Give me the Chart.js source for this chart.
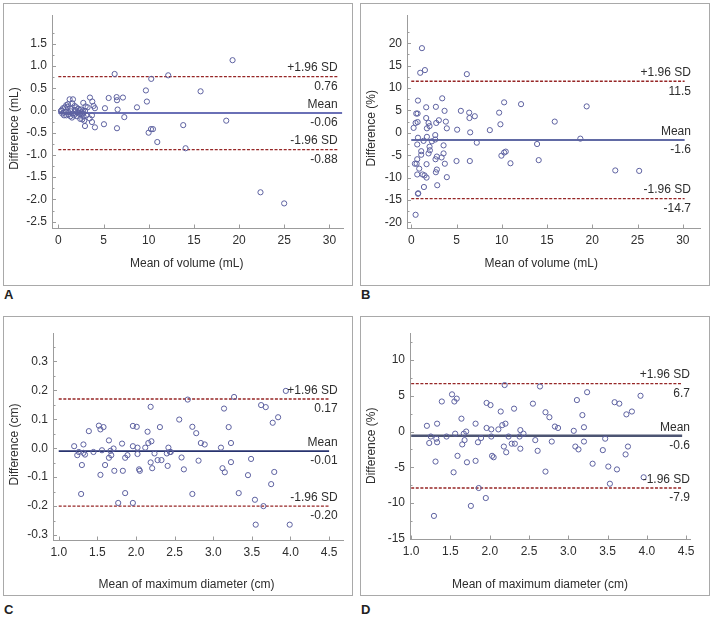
<!DOCTYPE html>
<html>
<head>
<meta charset="utf-8">
<script src="https://cdn.jsdelivr.net/npm/chart.js@4.4.1/dist/chart.umd.min.js"></script>
<style>
  body { margin: 0; background: #fff; width: 714px; height: 618px; position: relative; overflow: hidden; }
  .panel { position: absolute; border: 1px solid #a9a9a9; box-sizing: border-box; background: #fff; }
  .panel canvas { display: block; }
  .tag { position: absolute; font: bold 13px "Liberation Sans", Arial, sans-serif; color: #222; }
</style>
</head>
<body>
<div class="panel" style="left:3px;top:3px;width:350px;height:283px"><canvas id="chartA" width="348" height="281"></canvas></div>
<div class="panel" style="left:360px;top:3px;width:350px;height:283px"><canvas id="chartB" width="348" height="281"></canvas></div>
<div class="panel" style="left:3px;top:316px;width:350px;height:280px"><canvas id="chartC" width="348" height="278"></canvas></div>
<div class="panel" style="left:360px;top:316px;width:350px;height:280px"><canvas id="chartD" width="348" height="278"></canvas></div>
<div class="tag" style="left:4px;top:287px">A</div>
<div class="tag" style="left:361px;top:287px">B</div>
<div class="tag" style="left:4px;top:602px">C</div>
<div class="tag" style="left:361px;top:602px">D</div>
<script>
// A: mean of volume (mL) vs difference (mL)
const volA = [
  6.23, 19.28, 10.28, 12.16, 9.69, 15.74, 9.80, 8.70, 5.57, 6.45, 6.49, 7.15, 5.16, 6.56,
  7.30, 5.05, 6.49, 4.05, 18.58, 13.82, 9.99, 10.25, 10.47, 10.95, 14.08, 22.37, 24.99,
  3.50, 3.76, 3.90, 4.05, 3.02, 2.76, 3.46, 3.72, 3.72, 2.95, 2.87, 2.76,
  0.37, 0.52, 0.74, 0.88, 1.07, 1.25, 1.62, 1.55, 1.81, 1.99, 2.21, 2.36, 2.54, 2.73,
  0.44, 0.63, 0.88, 1.11, 1.33, 1.51, 1.73, 1.92, 2.14, 2.36, 2.62, 0.77, 1.14, 1.40,
  1.62, 1.03, 1.40, 1.84, 2.06, 2.29, 2.80, 2.65, 2.43, 3.10, 3.24, 2.95, 0.29, 0.59,
];
const diffA = [
  0.82, 1.13, 0.71, 0.79, 0.45, 0.43, 0.20, 0.07, 0.28, 0.30, 0.23, 0.29, 0.05, 0.02,
  -0.15, -0.31, -0.40, -0.38, -0.23, -0.33, -0.50, -0.42, -0.42, -0.71, -0.85, -1.84, -2.09,
  0.29, 0.20, 0.10, 0.05, 0.09, 0.17, -0.18, -0.11, -0.26, -0.35, -0.23, -0.07,
  0.01, 0.05, 0.07, 0.12, 0.14, 0.25, 0.25, 0.16, 0.10, 0.07, 0.04, 0.01, 0.02, -0.02,
  -0.07, -0.11, -0.11, -0.09, -0.13, -0.16, -0.11, -0.07, -0.04, -0.08, -0.07, -0.03, -0.04, -0.02,
  -0.07, 0.08, 0.03, 0.01, -0.13, -0.05, -0.14, -0.20, -0.19, -0.11, 0.07, -0.01, -0.01, -0.05,
];

// B: mean of volume (mL) vs difference (%)
const volB = [
  1.18, 0.99, 1.51, 6.14, 3.42, 0.74, 10.26, 12.13, 19.38, 2.72, 1.65, 0.55, 0.70, 3.68,
  5.48, 6.40, 9.71, 7.02, 6.43, 1.65, 3.05, 3.82, 0.70, 0.48, 1.91, 2.76, 15.85, 9.85,
  2.02, 1.73, 0.26, 3.93, 5.07, 8.68, 6.51, 18.68, 0.74, 1.73, 2.65, 1.36, 2.28, 2.65,
  7.24, 13.90, 0.66, 3.57, 2.02, 1.10, 2.06, 1.91, 3.57, 2.83, 3.35, 1.10, 10.26, 10.44,
  9.96, 2.68, 0.66, 0.40, 0.59, 3.71, 5.00, 6.47, 14.08, 10.96, 1.69, 0.88, 2.83, 2.72,
  22.54, 25.18, 0.66, 1.25, 1.47, 1.69, 3.93, 1.40, 2.87, 0.77, 0.74, 0.48,
];
const diffB = [
  18.9, 13.4, 14.0, 13.1, 7.7, 7.2, 6.8, 6.4, 5.9, 5.8, 5.7, 4.3, 4.3, 4.9,
  4.9, 4.5, 4.5, 3.7, 3.3, 3.3, 2.8, 2.5, 2.4, 2.2, 2.2, 2.2, 2.5, 1.9,
  1.5, 1.0, 1.1, 1.0, 0.7, 0.6, 0.1, -1.3, -1.1, -0.9, -0.5, -1.8, -1.9, -1.5,
  -2.2, -2.5, -2.6, -2.8, -3.1, -4.1, -3.9, -4.6, -4.6, -5.3, -5.5, -4.9, -4.4, -4.2,
  -5.1, -5.9, -5.9, -6.9, -6.9, -6.9, -6.3, -6.3, -6.1, -6.8, -7.0, -8.0, -8.2, -8.8,
  -8.4, -8.5, -9.3, -9.3, -9.5, -10.0, -9.9, -12.1, -11.7, -13.5, -13.6, -18.3,
];

// C: mean of maximum diameter (cm) vs difference (cm)
const diamC = [
  1.20, 1.24, 1.26, 1.30, 1.29, 1.32, 1.34, 1.32, 1.39, 1.45, 1.52, 1.54, 1.58, 1.54,
  1.56, 1.60, 1.65, 1.65, 1.67, 1.68, 1.71, 1.72, 1.77, 1.82, 1.83, 1.86, 1.86, 1.89,
  1.96, 1.96, 1.96, 2.01, 2.02, 2.02, 2.04, 2.05, 2.12, 2.15, 2.16, 2.19, 2.19, 2.20,
  2.21, 2.24, 2.28, 2.31, 2.33, 2.40, 2.41, 2.42, 2.44, 2.45, 2.56, 2.59, 2.62, 2.67,
  2.73, 2.73, 2.78, 2.81, 2.84, 2.89, 3.10, 3.12, 3.14, 3.15, 3.20, 3.23, 3.23, 3.27,
  3.33, 3.45, 3.49, 3.54, 3.55, 3.62, 3.65, 3.68, 3.75, 3.77, 3.79, 3.84, 3.94, 3.99,
];
const diffC = [
  0.007, -0.024, -0.013, -0.058, -0.158, 0.013, -0.022, -0.016, 0.059, -0.013, 0.078, 0.065, 0.073, -0.092,
  -0.007, -0.058, 0.027, -0.033, -0.009, -0.024, -0.001, -0.078, -0.189, 0.016, -0.078, -0.155, -0.033, -0.024,
  0.007, -0.189, 0.077, 0.074, 0.002, -0.020, -0.073, -0.078, 0.002, 0.057, 0.018, -0.049, 0.143, 0.024,
  -0.069, -0.018, -0.041, 0.073, -0.041, -0.018, -0.061, 0.002, -0.013, -0.013, 0.099, -0.032, -0.073, 0.168,
  0.074, -0.158, 0.052, -0.043, 0.018, 0.013, 0.002, -0.069, 0.137, -0.083, 0.073, 0.018, -0.048, 0.177,
  -0.155, -0.093, -0.037, -0.178, -0.264, 0.149, -0.200, 0.142, -0.124, 0.088, -0.082, 0.107, 0.198, -0.264,
];

// D: mean of maximum diameter (cm) vs difference (%)
const diamD = [
  1.20, 1.23, 1.25, 1.31, 1.29, 1.32, 1.33, 1.33, 1.39, 1.45, 1.52, 1.54, 1.55, 1.56,
  1.58, 1.59, 1.64, 1.65, 1.67, 1.68, 1.70, 1.71, 1.76, 1.82, 1.82, 1.85, 1.86, 1.89,
  1.95, 1.96, 1.96, 2.01, 2.02, 2.02, 2.03, 2.05, 2.11, 2.14, 2.16, 2.18, 2.19, 2.20,
  2.21, 2.24, 2.28, 2.31, 2.32, 2.38, 2.39, 2.39, 2.43, 2.55, 2.58, 2.61, 2.64, 2.71,
  2.71, 2.76, 2.79, 2.83, 2.87, 3.07, 3.09, 3.11, 3.13, 3.18, 3.20, 3.20, 3.24, 3.31,
  3.44, 3.47, 3.51, 3.53, 3.59, 3.62, 3.65, 3.73, 3.74, 3.76, 3.81, 3.92, 3.96,
];
const diffD = [
  0.8, -1.6, -0.7, -4.2, -11.8, -1.0, 1.1, -1.5, 4.2, -0.7, 5.2, -5.7, 4.2, -0.3,
  4.6, -3.4, 1.8, -1.8, -0.3, -1.2, 0.0, -4.3, -10.4, 1.1, -4.1, -1.5, -7.9, -0.9,
  -9.3, 0.5, 4.0, 3.7, 0.3, -0.7, -3.4, -3.6, 0.3, 2.8, 0.9, -2.1, 6.5, 1.1,
  -2.9, -0.7, -1.7, 3.2, -1.7, -0.7, -2.4, 0.2, -0.3, 3.9, -1.2, -2.7, 6.3, 2.7,
  -5.6, 2.0, -1.4, 0.7, 0.5, 0.1, -2.1, 4.4, -2.5, 2.3, -1.4, 0.6, 5.5, -4.5,
  -2.6, -1.0, -4.9, -7.3, 4.1, -5.3, 3.9, -3.2, 2.4, -2.1, 2.8, 5.0, -6.4,
];

const limitNames = ["+1.96 SD", "Mean", "-1.96 SD"];
const limitsA = [0.76, -0.06, -0.88];
const limitsB = [11.5, -1.6, -14.7];
const limitsC = [0.17, -0.01, -0.2];
const limitsD = [6.7, -0.6, -7.9];

const volTicks = [0, 5, 10, 15, 20, 25, 30];
const diamTicks = [1.0, 1.5, 2.0, 2.5, 3.0, 3.5, 4.0, 4.5];
const yTicksA = [-2.5, -2.0, -1.5, -1.0, -0.5, 0.0, 0.5, 1.0, 1.5];
const yTicksB = [-20, -15, -10, -5, 0, 5, 10, 15, 20];
const yTicksC = [-0.3, -0.2, -0.1, 0.0, 0.1, 0.2, 0.3];
const yTicksD = [-15, -10, -5, 0, 5, 10];

const FONT = "'Liberation Sans', Arial, sans-serif";
const TEXT = "#2e2e2e";
const AXIS = "#9c9c9c";
const POINT = "#5d61a0";
const DASH = "#962626";

Chart.defaults.font.family = FONT;
Chart.defaults.font.size = 12;
Chart.defaults.color = TEXT;

// ticks point inward, with a shorter minor tick half way between labels
const inwardTicks = {
  id: "inwardTicks",
  afterDraw(chart, args, opts) {
    const { ctx, chartArea, scales } = chart;
    const { x, y } = scales;
    ctx.save();
    ctx.strokeStyle = AXIS;
    ctx.lineWidth = 1;
    ctx.beginPath();
    const majors = y.ticks.map((t) => t.value);
    const half = opts.yStep / 2;
    const minors = [];
    majors.forEach((v) => {
      [v - half, v + half].forEach((m) => {
        if (m > y.min && m < y.max && !minors.some((o) => Math.abs(o - m) < 1e-9)) minors.push(m);
      });
    });
    majors.forEach((v) => {
      const py = Math.round(y.getPixelForValue(v)) + 0.5;
      ctx.moveTo(chartArea.left, py);
      ctx.lineTo(chartArea.left + 4, py);
    });
    minors.forEach((v) => {
      const py = Math.round(y.getPixelForValue(v)) + 0.5;
      ctx.moveTo(chartArea.left, py);
      ctx.lineTo(chartArea.left + 2.5, py);
    });
    x.ticks.forEach((t) => {
      const px = Math.round(x.getPixelForValue(t.value)) + 0.5;
      ctx.moveTo(px, chartArea.bottom);
      ctx.lineTo(px, chartArea.bottom - 3.5);
    });
    ctx.stroke();
    ctx.restore();
  },
};

const limitLabels = {
  id: "limitLabels",
  afterDatasetsDraw(chart, args, opts) {
    const { ctx, scales } = chart;
    const px = scales.x.getPixelForValue(opts.at);
    ctx.save();
    ctx.font = "12px " + FONT;
    ctx.fillStyle = TEXT;
    ctx.textAlign = "right";
    ctx.textBaseline = "middle";
    opts.values.forEach((v, i) => {
      const py = scales.y.getPixelForValue(v);
      ctx.fillText(limitNames[i], px, py - 8.5);
      ctx.fillText(v.toFixed(opts.digits), px, py + 10);
    });
    ctx.restore();
  },
};

const axisTitles = {
  id: "axisTitles",
  afterDraw(chart, args, opts) {
    const { ctx } = chart;
    ctx.save();
    ctx.font = "12px " + FONT;
    ctx.fillStyle = TEXT;
    ctx.textAlign = "center";
    ctx.textBaseline = "middle";
    ctx.fillText(opts.x, opts.xAt[0], opts.xAt[1]);
    ctx.translate(opts.yAt[0], opts.yAt[1]);
    ctx.rotate(-Math.PI / 2);
    ctx.fillText(opts.y, 0, 0);
    ctx.restore();
  },
};

function makeChart(canvasId, p) {
  const points = p.xs.map((x, i) => ({ x: x, y: p.ys[i] }));
  const lines = p.limits.map((v, i) => ({
    data: [
      { x: p.lineFrom, y: v },
      { x: i === 1 ? p.meanTo : p.lineTo, y: v },
    ],
    showLine: true,
    pointRadius: 0,
    borderColor: i === 1 ? p.meanColor : DASH,
    borderWidth: i === 1 ? p.meanWidth : 1.4,
    borderDash: i === 1 ? [] : [3, 1.6],
  }));

  const fixScale = (size, key) => (scale) => {
    scale[key] = size;
    scale.paddingTop = 0;
    scale.paddingBottom = 0;
    scale.paddingLeft = 0;
    scale.paddingRight = 0;
  };

  return new Chart(document.getElementById(canvasId), {
    type: "scatter",
    data: {
      datasets: [
        {
          data: points,
          pointRadius: 2.6,
          borderColor: POINT,
          backgroundColor: "rgba(255,255,255,0)",
          borderWidth: 1,
        },
        ...lines,
      ],
    },
    plugins: [inwardTicks, limitLabels, axisTitles],
    options: {
      responsive: false,
      animation: false,
      layout: { padding: { left: 0, top: p.padTop, right: p.padRight, bottom: 0 } },
      plugins: {
        legend: { display: false },
        tooltip: { enabled: false },
        inwardTicks: { yStep: p.yTicks[1] - p.yTicks[0] },
        limitLabels: { at: p.labelAt, values: p.limits, digits: p.digits },
        axisTitles: { x: p.xTitle, y: p.yTitle, xAt: p.xTitleAt, yAt: p.yTitleAt },
      },
      scales: {
        x: {
          type: "linear",
          min: p.xMin,
          max: p.xMax,
          grid: { display: false, drawTicks: false },
          border: { display: true, color: AXIS, width: 1 },
          ticks: {
            padding: 5,
            color: TEXT,
            callback: (v) => v.toFixed(p.xDigits),
          },
          afterBuildTicks: (scale) => {
            scale.ticks = p.xTicks.map((v) => ({ value: v }));
          },
          afterFit: fixScale(p.xHeight, "height"),
        },
        y: {
          type: "linear",
          min: p.yMin,
          max: p.yMax,
          grid: { display: false, drawTicks: false },
          border: { display: true, color: AXIS, width: 1 },
          ticks: {
            padding: 5,
            color: TEXT,
            callback: (v) => v.toFixed(p.yDigits),
          },
          afterBuildTicks: (scale) => {
            scale.ticks = p.yTicks.map((v) => ({ value: v }));
          },
          afterFit: fixScale(p.yWidth, "width"),
        },
      },
    },
  });
}

makeChart("chartA", {
  xs: volA, ys: diffA, limits: limitsA, digits: 2,
  xMin: -0.7, xMax: 31.5, yMin: -2.643, yMax: 2.146,
  xTicks: volTicks, yTicks: yTicksA, xDigits: 0, yDigits: 1,
  yWidth: 48, padTop: 11, padRight: 9, xHeight: 57,
  lineFrom: 0, lineTo: 31, meanTo: 31.4, labelAt: 30.9,
  meanColor: "#6a70b6", meanWidth: 2,
  xTitle: "Mean of volume (mL)", yTitle: "Difference (mL)",
  xTitleAt: [182.7, 260], yTitleAt: [11, 124.6],
});

makeChart("chartB", {
  xs: volB, ys: diffB, limits: limitsB, digits: 1,
  xMin: -0.47, xMax: 31.9, yMin: -21.25, yMax: 26.3,
  xTicks: volTicks, yTicks: yTicksB, xDigits: 0, yDigits: 0,
  yWidth: 46, padTop: 11, padRight: 9, xHeight: 57,
  lineFrom: 0, lineTo: 30.2, meanTo: 30.2, labelAt: 30.9,
  meanColor: "#2d3886", meanWidth: 1.6,
  xTitle: "Mean of volume (mL)", yTitle: "Difference (%)",
  xTitleAt: [180.3, 260], yTitleAt: [11, 124.3],
});

makeChart("chartC", {
  xs: diamC, ys: diffC, limits: limitsC, digits: 2,
  xMin: 0.926, xMax: 4.68, yMin: -0.317, yMax: 0.398,
  xTicks: diamTicks, yTicks: yTicksC, xDigits: 1, yDigits: 1,
  yWidth: 49, padTop: 16, padRight: 9, xHeight: 55,
  lineFrom: 1.0, lineTo: 4.5, meanTo: 4.5, labelAt: 4.61,
  meanColor: "#28336f", meanWidth: 1.6,
  xTitle: "Mean of maximum diameter (cm)", yTitle: "Difference (cm)",
  xTitleAt: [182.5, 268], yTitleAt: [11, 127.5],
});

makeChart("chartD", {
  xs: diamD, ys: diffD, limits: limitsD, digits: 1,
  xMin: 0.985, xMax: 4.55, yMin: -15.03, yMax: 13.78,
  xTicks: diamTicks, yTicks: yTicksD, xDigits: 1, yDigits: 0,
  yWidth: 49, padTop: 16, padRight: 19, xHeight: 56,
  lineFrom: 1.0, lineTo: 4.45, meanTo: 4.45, labelAt: 4.55,
  meanColor: "#4c5472", meanWidth: 2.5,
  xTitle: "Mean of maximum diameter (cm)", yTitle: "Difference (%)",
  xTitleAt: [179, 268], yTitleAt: [11, 128.8],
});
</script>
</body>
</html>
